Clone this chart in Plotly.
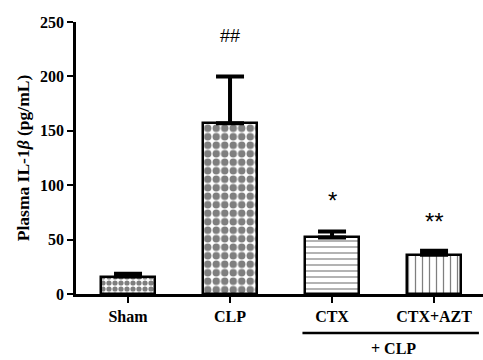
import plotly.graph_objects as go

categories = ["Sham", "CLP", "CTX", "CTX+AZT"]
values = [16, 157, 52, 36]
errors = [2.5, 43, 5.5, 3.7]
sig_labels = ["", "##", "*", "**"]
sig_y = [None, 237, 86, 67]
y_ticks = [0, 50, 100, 150, 200, 250]

patterns = [
    dict(shape=".", size=6, solidity=0.6, fgcolor="black", bgcolor="white"),
    dict(shape=".", size=8.5, solidity=0.6, fgcolor="black", bgcolor="white"),
    dict(shape="-", size=6, solidity=0.2, fgcolor="black", bgcolor="white"),
    dict(shape="|", size=7, solidity=0.18, fgcolor="black", bgcolor="white"),
]

serif = "Liberation Serif"
fig = go.Figure()
for i, c in enumerate(categories):
    fig.add_trace(go.Bar(
        x=[i], y=[values[i]], width=0.53,
        marker=dict(color="white", pattern=patterns[i],
                    line=dict(color="black", width=2.5)),
        error_y=dict(type="data", symmetric=False, array=[errors[i]], arrayminus=[0],
                     color="black", thickness=4, width=14),
        showlegend=False,
    ))

for i, lab in enumerate(sig_labels):
    if lab:
        fig.add_annotation(x=i, y=sig_y[i], text=lab, showarrow=False,
                           font=dict(family="Liberation Sans", size=18 if lab == "##" else 24, color="black"),
                           yanchor="middle")

fig.add_shape(type="line", xref="x", yref="paper", x0=2 - 0.29, x1=3 + 0.44,
              y0=-0.143, y1=-0.143, line=dict(color="black", width=2.5))
fig.add_annotation(x=2.6, y=-0.2, xref="x", yref="paper", text="+ CLP", showarrow=False,
                   font=dict(family=serif, size=16, color="black", weight="bold"), yanchor="middle")

fig.update_layout(
    width=483, height=360,
    margin=dict(l=76, r=0, t=22, b=66),
    plot_bgcolor="white", paper_bgcolor="white",
    bargap=0,
)
fig.update_xaxes(
    range=[-0.51, 3.48], tickmode="array", tickvals=list(range(len(categories))),
    ticktext=categories, showline=True, linecolor="black", linewidth=2.5,
    ticks="outside", ticklen=6, tickwidth=2, tickcolor="black",
    showgrid=False, zeroline=False,
    tickfont=dict(family=serif, size=16, color="black", weight="bold"),
)
fig.update_yaxes(
    range=[0, 250], tickmode="array", tickvals=y_ticks,
    showline=True, linecolor="black", linewidth=2.5,
    ticks="outside", ticklen=6, tickwidth=2, tickcolor="black",
    showgrid=False, zeroline=False,
    tickfont=dict(family=serif, size=16, color="black", weight="bold"),
    title=dict(text="Plasma IL-1<i>β</i> (pg/mL)", standoff=6,
               font=dict(family=serif, size=17.5, color="black", weight="bold")),
)

fig.write_html("out.html", config={"displayModeBar": False},
               post_script="document.body.style.margin='0px';")
